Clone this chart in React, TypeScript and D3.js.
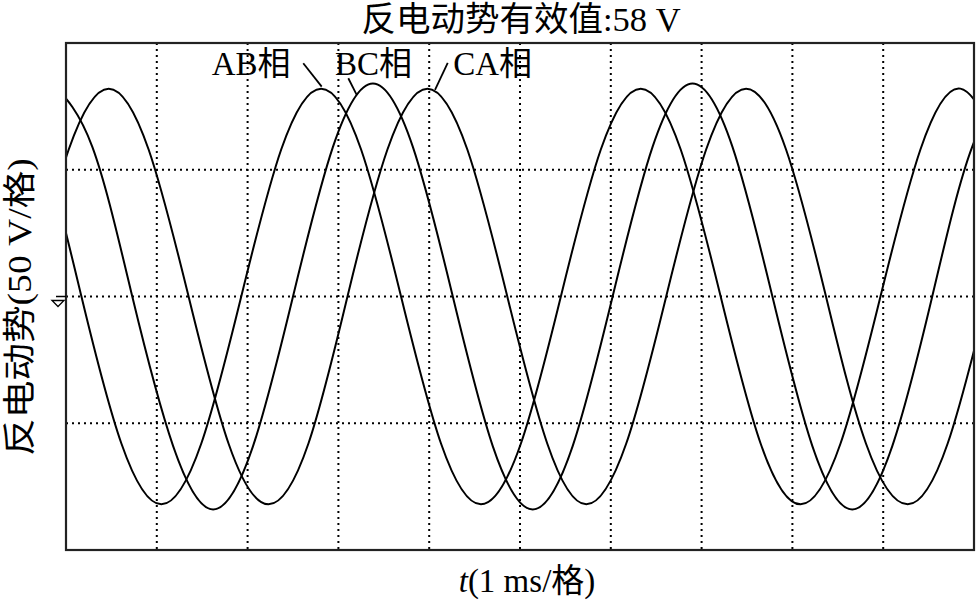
import React from "react";
import * as d3 from "d3";

// time in ms, voltage in V
const tAB = [-0.71, -0.27, 0.17, 0.61, 1.05, 1.49, 1.93, 2.37, 2.81, 3.25, 3.69, 4.13, 4.57, 5.01, 5.45, 5.89, 6.33, 6.77, 7.21, 7.65, 8.09, 8.53, 8.97, 9.41, 9.85, 10.29];
const vAB = [82, 58, 0, -58, -82, -58, 0, 58, 82, 58, 0, -58, -82, -58, 0, 58, 82, 58, 0, -58, -82, -58, 0, 58, 82, 58];

const tBC = [-0.15, 0.29, 0.73, 1.18, 1.62, 2.06, 2.5, 2.94, 3.38, 3.82, 4.26, 4.7, 5.14, 5.58, 6.02, 6.46, 6.9, 7.34, 7.78, 8.22, 8.66, 9.1, 9.54, 9.98, 10.43];
const vBC = [84, 59, 0, -59, -84, -59, 0, 59, 84, 59, 0, -59, -84, -59, 0, 59, 84, 59, 0, -59, -84, -59, 0, 59, 84];

const tCA = [-1.29, -0.85, -0.41, 0.03, 0.47, 0.91, 1.35, 1.79, 2.23, 2.67, 3.1, 3.54, 3.98, 4.42, 4.86, 5.3, 5.73, 6.17, 6.61, 7.05, 7.49, 7.93, 8.37, 8.81, 9.27, 9.71, 10.15];
const vCA = [-82, -58, 0, 58, 82, 58, 0, -58, -82, -58, 0, 58, 82, 58, 0, -58, -82, -58, 0, 58, 82, 58, 0, -58, -82, -58, 0];

const xGridTicks = [1, 2, 3, 4, 5, 6, 7, 8, 9];
const yGridTicks = [-50, 0, 50];

const labelNames = ["AB相", "BC相", "CA相"];
const labelT = [1.605, 2.963, 4.265];
const labelV = 87.4;
const leaderFrom = [[2.613, 92.0], [3.109, 86.1], [4.204, 92.2]];
const leaderTo = [[2.816, 82.8], [3.202, 79.5], [4.064, 81.5]];

const titleText = "反电动势有效值:58 V";
const yLabelText = "反电动势(50 V/格)";

const W = 976, H = 605;
const L = 66, R = 974, T = 43, B = 550;
const FONT = "'Liberation Serif', 'Times New Roman', 'Noto Sans CJK SC', serif";

export default function App() {
  const x = d3.scaleLinear().domain([0, 10]).range([L, R]);
  const y = d3.scaleLinear().domain([-100, 100]).range([B, T]);
  const line = d3
    .line<[number, number]>()
    .x((d) => x(d[0]))
    .y((d) => y(d[1]))
    .curve(d3.curveNatural);
  const series = [
    d3.zip(tAB, vAB) as [number, number][],
    d3.zip(tBC, vBC) as [number, number][],
    d3.zip(tCA, vCA) as [number, number][],
  ];
  const y0 = y(0);
  return (
    <svg width={W} height={H} style={{ position: "absolute", left: 0, top: 0, background: "#fff" }} fontFamily={FONT}>
      <defs>
        <clipPath id="plotclip">
          <rect x={L} y={T} width={R - L} height={B - T} />
        </clipPath>
      </defs>
      <rect x={0} y={0} width={W} height={H} fill="#fff" />
      {xGridTicks.map((t) => (
        <line key={"gx" + t} x1={x(t)} x2={x(t)} y1={T} y2={B} stroke="#000" strokeWidth={2} strokeDasharray="2,4" />
      ))}
      {yGridTicks.map((v) => (
        <line key={"gy" + v} x1={L} x2={R} y1={y(v)} y2={y(v)} stroke="#000" strokeWidth={2} strokeDasharray="2,4" />
      ))}
      <g clipPath="url(#plotclip)">
        {series.map((s, i) => (
          <path key={i} d={line(s) || ""} fill="none" stroke="#000" strokeWidth={2} />
        ))}
      </g>
      <rect x={L} y={T} width={R - L} height={B - T} fill="none" stroke="#222" strokeWidth={2.2} />
      {/* ground marker */}
      <path d={`M${L},${y0} H${L - 10} M${L - 2},${y0 + 4} H${L - 14} L${L - 8},${y0 + 10} Z`} fill="none" stroke="#000" strokeWidth={1.3} />
      {labelNames.map((n, i) => (
        <text key={n} x={x(labelT[i])} y={y(labelV)} fontSize={33} fill="#000">
          {n}
        </text>
      ))}
      {labelNames.map((n, i) => (
        <line key={"ld" + n} x1={x(leaderFrom[i][0])} y1={y(leaderFrom[i][1])} x2={x(leaderTo[i][0])} y2={y(leaderTo[i][1])} stroke="#000" strokeWidth={1.8} />
      ))}
      <text x={521} y={31} textAnchor="middle" fontSize={34.5} fill="#000">
        {titleText}
      </text>
      <text x={527} y={592} textAnchor="middle" fontSize={33} fill="#000">
        <tspan fontStyle="italic">t</tspan>
        <tspan>(1 ms/格)</tspan>
      </text>
      <text transform={`translate(31,307) rotate(-90) scale(1.14,1)`} textAnchor="middle" fontSize={33} fill="#000">
        {yLabelText}
      </text>
    </svg>
  );
}
